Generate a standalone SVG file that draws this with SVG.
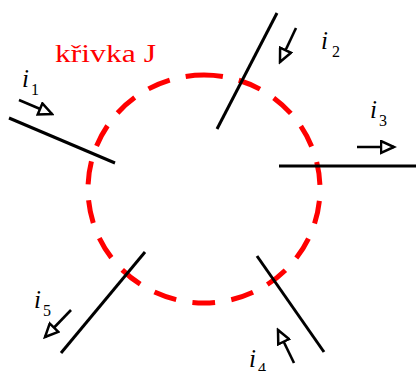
<svg xmlns="http://www.w3.org/2000/svg" width="416" height="371" viewBox="0 0 416 371">
<style>
.wire{stroke:#000;stroke-width:3;fill:none}
.cur{stroke:#000;stroke-width:2.6;fill:none;marker-end:url(#ah)}
.lbl{font-family:"Liberation Serif","Times New Roman",serif;font-style:italic;font-size:25px;fill:#000}
.sub{font-family:"Liberation Serif","Times New Roman",serif;font-size:16px;fill:#000}
.title{font-family:"Liberation Serif","Times New Roman",serif;font-size:25px;fill:#f00}
.curve{stroke:#f00;stroke-width:5;fill:none;stroke-dasharray:23 16.3;stroke-dashoffset:4}
</style>
<defs>
<marker id="ah" viewBox="-1 -1 17 15" refX="13.5" refY="6.5" markerWidth="17" markerHeight="15" markerUnits="userSpaceOnUse" orient="auto">
<path d="M0.5,0.5 L13.5,6.5 L0.5,12.5 Z" fill="#fff" stroke="#000" stroke-width="2.5" stroke-linejoin="miter"/>
</marker>
</defs>
<g id="curve-J">
<path class="curve" d="M204,75 A116,114 0 1,1 204,303 A116,114 0 1,1 204,75"/>
<text class="title" x="55" y="62" textLength="101" lengthAdjust="spacingAndGlyphs">křivka J</text>
</g>
<g id="connectors">
<line class="wire" x1="9" y1="118" x2="115" y2="163"/>
<line class="wire" x1="277" y1="13" x2="217" y2="129"/>
<line class="wire" x1="279" y1="166" x2="416" y2="166"/>
<line class="wire" x1="257" y1="256" x2="324" y2="352"/>
<line class="wire" x1="145" y1="252" x2="61" y2="353"/>
</g>
<g id="i1">
<line class="cur" x1="19" y1="100" x2="52" y2="114"/>
<text class="lbl" x="22" y="87">i</text><text class="sub" x="31" y="95">1</text>
</g>
<g id="i2">
<line class="cur" x1="296" y1="28" x2="280" y2="62"/>
<text class="lbl" x="321" y="49">i</text><text class="sub" x="332" y="57">2</text>
</g>
<g id="i3">
<line class="cur" x1="357" y1="147" x2="394" y2="147"/>
<text class="lbl" x="370" y="118">i</text><text class="sub" x="379" y="126">3</text>
</g>
<g id="i4">
<line class="cur" x1="294" y1="363" x2="278" y2="330"/>
<text class="lbl" x="249" y="367">i</text><text class="sub" x="258" y="374">4</text>
</g>
<g id="i5">
<line class="cur" x1="71" y1="310" x2="45" y2="337"/>
<text class="lbl" x="34" y="308">i</text><text class="sub" x="43" y="316">5</text>
</g>
</svg>
